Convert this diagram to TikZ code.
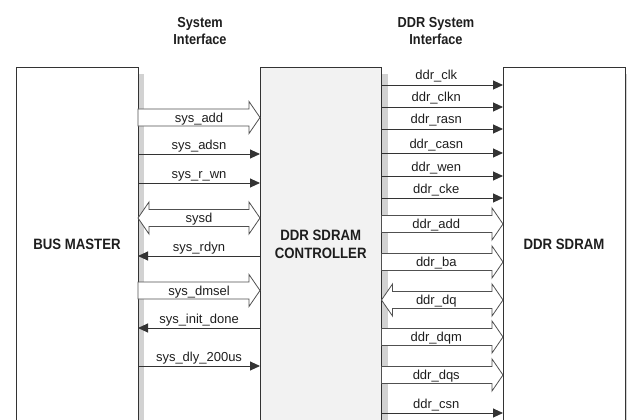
\documentclass[tikz,border=0pt]{standalone}
\usepackage{fontspec}
\setmainfont{Liberation Sans}
\newfontfamily\hdfont[FakeStretch=0.88]{Liberation Sans}
\usetikzlibrary{arrows.meta,calc}
\definecolor{linec}{HTML}{333333}
\definecolor{txt}{HTML}{1E1E1E}
\definecolor{hollowc}{HTML}{505050}
\definecolor{shadowc}{HTML}{D2D2D2}
\definecolor{ctlfill}{HTML}{F2F2F2}
\tikzset{
  box/.style={draw=linec, line width=1pt, fill=white, minimum width=122pt, minimum height=353.5pt, inner sep=0pt, outer sep=0pt,
     font=\hdfont\bfseries\fontsize{15}{18}\selectfont, text=txt, align=center},
  title/.style={font=\hdfont\bfseries\fontsize{14.5}{17}\selectfont, text=txt, align=center, inner sep=0pt},
  sig/.style={draw=linec, line width=0.9pt, -{Triangle[length=10pt,width=9pt]}},
  lbl/.style={font=\fontsize{13}{15}\selectfont, text=txt, anchor=base, inner sep=0pt},
  hollow/.style={draw=hollowc, line width=0.8pt, fill=white, line join=miter},
  shadow/.style={fill=shadowc}
}
% single hollow arrow to the right: #1 start, #2 end, #3 label, #4 label xshift
\newcommand\fatR[4]{%
  \draw[hollow] let \p1=(#1), \p2=(#2) in
    (\x1,{\y1+8.5pt}) -- ({\x2-11pt},{\y1+8.5pt}) -- ({\x2-11pt},{\y1+16pt}) -- (\x2,\y1)
    -- ({\x2-11pt},{\y1-16pt}) -- ({\x2-11pt},{\y1-8.5pt}) -- (\x1,{\y1-8.5pt}) -- cycle;
  \node[lbl, xshift=#4, yshift=-4.5pt] at ($(#1)!0.5!(#2)$) {#3};
}
% double hollow arrow
\newcommand\fatLR[4]{%
  \draw[hollow] let \p1=(#1), \p2=(#2) in
    (\x1,\y1) -- ({\x1+11pt},{\y1+16pt}) -- ({\x1+11pt},{\y1+8.5pt}) -- ({\x2-11pt},{\y1+8.5pt})
    -- ({\x2-11pt},{\y1+16pt}) -- (\x2,\y1) -- ({\x2-11pt},{\y1-16pt}) -- ({\x2-11pt},{\y1-8.5pt})
    -- ({\x1+11pt},{\y1-8.5pt}) -- ({\x1+11pt},{\y1-16pt}) -- cycle;
  \node[lbl, xshift=#4, yshift=-4.5pt] at ($(#1)!0.5!(#2)$) {#3};
}
\begin{document}
\begin{tikzpicture}[x=1pt,y=-1pt]
\useasboundingbox (0,0) rectangle (627,420);
\clip (0,0) rectangle (627,420);

% titles
\node[title] (t1) at (200,31.3) {System\\Interface};
\node[title] (t2) at (436,31.3) {DDR System\\Interface};

% boxes
\node[box] (bm) at (77,244.75) {BUS MASTER};
\node[box, fill=ctlfill, minimum width=121.5pt] (ctl) at (320.75,244.75) {DDR SDRAM\\CONTROLLER};
\node[box] (ddr) at (564,244.75) {DDR SDRAM};

% shadows
\fill[shadow] ($(bm.north east)+(0.5,6)$) rectangle ($(bm.south east)+(6,0)$);
\fill[shadow] ($(ctl.north east)+(0.5,6)$) rectangle ($(ctl.south east)+(6,0)$);
\fill[shadow] ($(ddr.north east)+(0.5,6)$) rectangle ($(ddr.south east)+(6,0)$);

% ---- system interface ----
\coordinate (sa1) at (bm.east |- 0,117.5);  \coordinate (sa2) at (ctl.west |- 0,117.5);
\fatR{sa1}{sa2}{sys\_add}{0pt}

\foreach \yy/\tt in {154/sys\_adsn, 183/sys\_r\_wn, 366/sys\_dly\_200us}{
  \draw[sig] (bm.east |- 0,\yy) -- (ctl.west |- 0,\yy)
     node[lbl, midway, yshift=5pt] {\tt};
}
\foreach \yy/\tt in {256/sys\_rdyn, 328/sys\_init\_done}{
  \draw[sig] (ctl.west |- 0,\yy) -- (bm.east |- 0,\yy)
     node[lbl, midway, yshift=5pt] {\tt};
}
\coordinate (sd1) at (bm.east |- 0,218);  \coordinate (sd2) at (ctl.west |- 0,218);
\fatLR{sd1}{sd2}{sysd}{0pt}
\coordinate (sm1) at (bm.east |- 0,290.5);  \coordinate (sm2) at (ctl.west |- 0,290.5);
\fatR{sm1}{sm2}{sys\_dmsel}{0pt}

% ---- DDR interface ----
\foreach \yy/\tt in {85/ddr\_clk, 107/ddr\_clkn, 129/ddr\_rasn, 153/ddr\_casn, 176/ddr\_wen, 198/ddr\_cke, 413/ddr\_csn}{
  \draw[sig] (ctl.east |- 0,\yy) -- (ddr.west |- 0,\yy)
     node[lbl, midway, yshift=5pt, xshift=-6pt] {\tt};
}
\coordinate (da1) at (ctl.east |- 0,224);  \coordinate (da2) at (ddr.west |- 0,224);
\fatR{da1}{da2}{ddr\_add}{-6pt}
\coordinate (db1) at (ctl.east |- 0,262);  \coordinate (db2) at (ddr.west |- 0,262);
\fatR{db1}{db2}{ddr\_ba}{-6pt}
\coordinate (dq1) at (ctl.east |- 0,300);  \coordinate (dq2) at (ddr.west |- 0,300);
\fatLR{dq1}{dq2}{ddr\_dq}{-6pt}
\coordinate (dm1) at (ctl.east |- 0,337);  \coordinate (dm2) at (ddr.west |- 0,337);
\fatR{dm1}{dm2}{ddr\_dqm}{-6pt}
\coordinate (ds1) at (ctl.east |- 0,375);  \coordinate (ds2) at (ddr.west |- 0,375);
\fatR{ds1}{ds2}{ddr\_dqs}{-6pt}
\end{tikzpicture}
\end{document}
